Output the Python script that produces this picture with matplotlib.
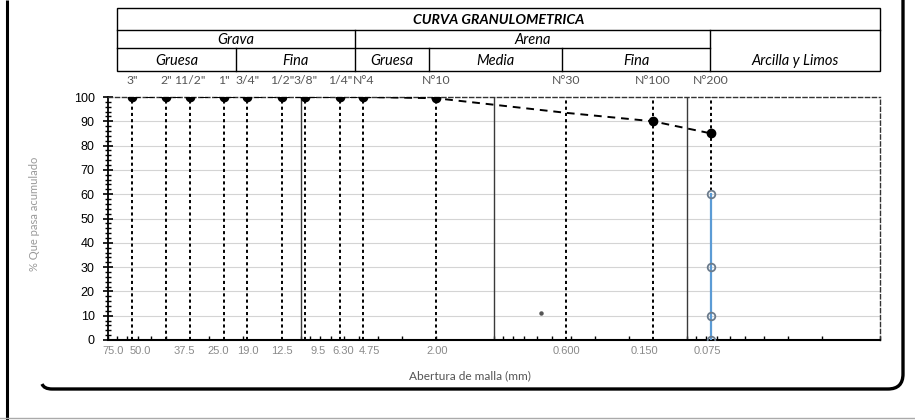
import matplotlib
matplotlib.use('Agg')
import matplotlib.pyplot as plt
from matplotlib.ticker import LogLocator, NullFormatter, FixedLocator, MultipleLocator
from matplotlib.path import Path
from matplotlib.patches import PathPatch, Rectangle
import matplotlib.transforms as mtransforms

# ---------------- data ----------------
sieve_names = ['3"', '2"', '11/2"', '1"', '3/4"', '1/2"', '3/8"', '1/4"',
               'N°4', 'N°10', 'N°30', 'N°100', 'N°200']
opening_labels = ['75.0', '50.0', '37.5', '25.0', '19.0', '12.5', '9.5', '6.30',
                  '4.75', '2.00', '0.600', '0.150', '0.075']
# where the opening labels sit along the axis in the reference (mm)
opening_label_at = [94, 68, 40, 27, 18.8, 12.5, 8.2, 6.05, 4.4, 1.97, 0.42, 0.167, 0.078]
opening_mm = [75, 50, 37.5, 25, 19, 12.5, 9.5, 6.3, 4.75, 2.0, 0.425, 0.15, 0.075]
pct_passing = [100, 100, 100, 100, 100, 100, 100, 100, 100, 99.5, 93.5, 90, 85]
marked = [0, 1, 2, 3, 4, 5, 6, 7, 8, 9, 11, 12]
fines_x = [0.075, 0.075, 0.075, 0.075]
fines_pct = [60, 30, 10, 0]
stray_x = [0.57]
stray_y = [11]
decade_lines = [10, 1, 0.1]

W, H = 915, 420
fig = plt.figure(figsize=(W / 100, H / 100), dpi=100)

# ---------------- overlay (frame + header table) ----------------
ov = fig.add_axes([0, 0, 1, 1])
ov.set_xlim(0, W)
ov.set_ylim(H, 0)
ov.axis('off')

# outer frame
ov.plot([7, 7], [0, 420], color='black', lw=2.2, solid_capstyle='butt')
ov.plot([0, 915], [418, 418], color='#aaaaaa', lw=1)
verts = [(42, 384), (44, 389), (52, 389), (888, 389), (903, 389), (903, 374), (903, 0)]
codes = [Path.MOVETO, Path.CURVE3, Path.CURVE3, Path.LINETO, Path.CURVE3, Path.CURVE3, Path.LINETO]
ov.add_patch(PathPatch(Path(verts, codes), fill=False, lw=2.4, edgecolor='black'))

# header table
lc = 'black'
tlw = 1.0
ov.add_patch(Rectangle((117, 7.5), 880 - 117, 70.5 - 7.5, fill=False, lw=tlw, edgecolor=lc))
ov.plot([117, 880], [30, 30], color=lc, lw=tlw)
ov.plot([117, 710], [48, 48], color=lc, lw=tlw)
ov.plot([355, 355], [30, 70.5], color=lc, lw=tlw)
ov.plot([710, 710], [30, 70.5], color=lc, lw=tlw)
ov.plot([236, 236], [48, 70.5], color=lc, lw=tlw)
ov.plot([429, 429], [48, 70.5], color=lc, lw=tlw)
ov.plot([562, 562], [48, 70.5], color=lc, lw=tlw)

hfont = dict(family=['Lato', 'DejaVu Sans'], style='italic')
hs = 10.5
ov.text(498.5, 19.5, 'CURVA GRANULOMETRICA', ha='center', va='center',
        fontsize=10.2, fontweight='bold', **hfont)
ov.text(236, 40, 'Grava', ha='center', va='center', fontsize=hs, **hfont)
ov.text(532.5, 40, 'Arena', ha='center', va='center', fontsize=hs, **hfont)
ov.text(176.5, 61, 'Gruesa', ha='center', va='center', fontsize=hs, **hfont)
ov.text(295.5, 61, 'Fina', ha='center', va='center', fontsize=hs, **hfont)
ov.text(392, 61, 'Gruesa', ha='center', va='center', fontsize=hs, **hfont)
ov.text(495.5, 61, 'Media', ha='center', va='center', fontsize=hs, **hfont)
ov.text(636, 61, 'Fina', ha='center', va='center', fontsize=hs, **hfont)
ov.text(795, 61, 'Arcilla y Limos', ha='center', va='center', fontsize=hs, **hfont)

# ---------------- main chart ----------------
ax = fig.add_axes([108 / W, 1 - 340 / H, (880 - 108) / W, (340 - 97) / H])
ax.set_xscale('log')
ax.set_xlim(100, 0.01)
ax.set_ylim(0, 100)

# horizontal gridlines
for yv in range(10, 100, 10):
    ax.axhline(yv, color='#d4d4d4', lw=0.8, zorder=1)

# decade lines
for xv in decade_lines:
    ax.plot([xv, xv], [0, 100], color='#3a3a3a', lw=1.0, zorder=2)

# sieve dotted verticals
for xv in opening_mm:
    ax.plot([xv, xv], [0, 100], color='black', lw=1.4, ls=(0, (1.6, 1.6)), zorder=2)

# grading curve
ax.plot(opening_mm, pct_passing, color='black', lw=1.4, ls=(0, (4, 3)),
        marker='o', markersize=6, markevery=marked, zorder=4)

# fines series
ax.plot(fines_x, fines_pct, color='#5b9bd5', lw=1.6, marker='o', markersize=5.5,
        markerfacecolor='none', markeredgecolor='#6b7b8c', markeredgewidth=1.3, zorder=5)

ax.plot(stray_x, stray_y, 'o', color='#555555', markersize=2.2, zorder=3)

# axes styling
for side in ['top', 'right']:
    ax.spines[side].set_linestyle((0, (3, 2)))
    ax.spines[side].set_linewidth(1.0)
    ax.spines[side].set_color('#333333')
ax.spines['left'].set_linewidth(1.3)
ax.spines['bottom'].set_linewidth(1.5)

ax.xaxis.set_major_locator(FixedLocator(opening_label_at))
ax.set_xticklabels(opening_labels)
ax.xaxis.set_minor_locator(LogLocator(base=10, subs=range(1, 10), numticks=50))
ax.xaxis.set_minor_formatter(NullFormatter())
ax.tick_params(axis='x', which='major', length=0, pad=4, labelsize=8, labelcolor='#8a8a8a')
for lab in ax.get_xticklabels():
    lab.set_family(['Liberation Sans', 'DejaVu Sans'])
ax.tick_params(axis='x', which='minor', length=3, direction='in', width=1)

ax.yaxis.set_major_locator(MultipleLocator(10))
ax.yaxis.set_minor_locator(MultipleLocator(2))
ax.tick_params(axis='y', which='major', direction='inout', length=7, width=1.2,
               labelsize=9, pad=6)
ax.tick_params(axis='y', which='minor', direction='inout', length=4, width=1)
for lab in ax.get_yticklabels():
    lab.set_family(['Liberation Sans', 'DejaVu Sans'])

# sieve names above the chart
trans = mtransforms.blended_transform_factory(ax.transData, ax.transAxes)
for xv, name in zip(opening_mm, sieve_names):
    ax.text(xv, 1 + (97 - 80) / 243, name, transform=trans, ha='center', va='center',
            fontsize=8.8, color='#555555', family=['Lato', 'DejaVu Sans'])

ax.set_xlabel('Abertura de malla (mm)', fontsize=8.6, color='#555555',
              family=['Lato', 'DejaVu Sans'])
ax.xaxis.set_label_coords(0.469, -0.125)
ax.set_ylabel('% Que pasa acumulado', fontsize=8, color='#999999',
              family=['Lato', 'DejaVu Sans'])
ax.yaxis.set_label_coords(-0.088, 0.52)

fig.savefig('out.png', dpi=100)
